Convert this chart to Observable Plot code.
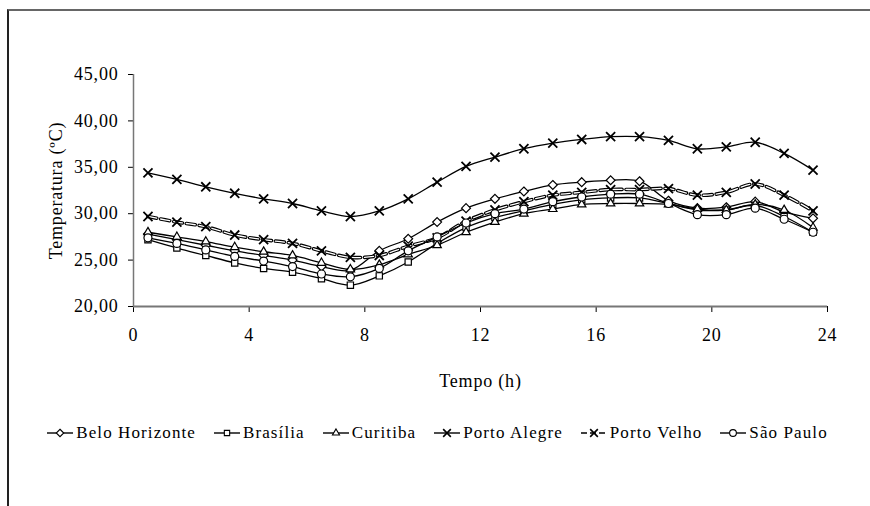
<!DOCTYPE html>
<html><head><meta charset="utf-8">
<script src="https://cdn.jsdelivr.net/npm/d3@7"></script>
<script src="https://cdn.jsdelivr.net/npm/@observablehq/plot@0.6"></script>
<style>
body{margin:0;background:#fff;}
#wrap{position:relative;width:870px;height:506px;overflow:hidden;font-family:"Liberation Serif","Times New Roman",serif;color:#000;}
#frame{position:absolute;left:7px;top:9px;width:900px;height:600px;border-top:2px solid #666;border-left:2px solid #222;}
#chart{position:absolute;left:0;top:0;}
#legend{position:absolute;left:0;width:874px;top:423px;display:flex;justify-content:center;align-items:center;gap:17px;font-size:17px;letter-spacing:1.1px;white-space:nowrap;}
.item{display:flex;align-items:center;gap:2px;}
</style></head>
<body><div id="wrap"><div id="frame"></div><div id="chart"></div><div id="legend"></div></div>
<script>
const hours = [0.5,1.5,2.5,3.5,4.5,5.5,6.5,7.5,8.5,9.5,10.5,11.5,12.5,13.5,14.5,15.5,16.5,17.5,18.5,19.5,20.5,21.5,22.5,23.5];
const cities = ["Belo Horizonte","Brasília","Curitiba","Porto Alegre","Porto Velho","São Paulo"];
const beloHorizonte = [27.8,27.2,26.6,26.0,25.5,25.0,24.3,23.9,26.0,27.3,29.1,30.6,31.6,32.4,33.1,33.4,33.6,33.5,31.4,30.6,30.7,31.3,30.2,29.5];
const brasilia      = [27.2,26.3,25.5,24.7,24.1,23.7,23.0,22.3,23.3,24.8,26.8,28.5,29.6,30.3,31.0,31.5,31.7,31.7,31.1,30.4,30.4,30.9,29.7,28.0];
const curitiba      = [28.0,27.5,27.0,26.4,25.9,25.5,24.7,24.0,24.5,25.6,26.6,28.0,29.1,30.0,30.5,31.0,31.1,31.1,31.0,30.5,30.4,31.0,30.4,28.5];
const portoAlegre   = [34.4,33.7,32.9,32.2,31.6,31.1,30.3,29.7,30.3,31.6,33.4,35.1,36.1,37.0,37.6,38.0,38.3,38.3,37.9,37.0,37.2,37.7,36.5,34.7];
const portoVelho    = [29.7,29.1,28.6,27.7,27.2,26.8,26.0,25.3,25.5,26.5,27.4,29.2,30.4,31.3,32.0,32.3,32.6,32.6,32.7,32.0,32.3,33.2,32.0,30.3];
const saoPaulo      = [27.4,26.8,26.1,25.4,24.9,24.3,23.5,23.2,24.1,26.0,27.5,29.0,30.0,30.5,31.3,31.8,32.1,32.1,31.1,29.9,29.9,30.6,29.4,28.0];
const seriesValues = [beloHorizonte,brasilia,curitiba,portoAlegre,portoVelho,saoPaulo];
const symbols = ["diamond2","square2","triangle2","times","times","circle"];
const d3symbols = [d3.symbolDiamond2,d3.symbolSquare2,d3.symbolTriangle2,d3.symbolTimes,d3.symbolTimes,d3.symbolCircle];
const xTicks = [0,4,8,12,16,20,24];
const yTicks = [20,25,30,35,40,45];

const rows = cities.map((c,i)=>hours.map((h,j)=>({city:c,hour:h,temp:seriesValues[i][j]})));
const fmt = d => d.toFixed(2).replace(".", ",");
const dash = "9,4";

const marks = [
  Plot.ruleY([20], {stroke:"#777", strokeWidth:2}),
  Plot.ruleX([0], {stroke:"#777", strokeWidth:1.5})
];
rows.forEach((data,i)=>{
  if (cities[i] === "Porto Velho") {
    marks.push(Plot.line(data,{x:"hour",y:"temp",curve:"catmull-rom",stroke:"black",strokeWidth:3.6,strokeDasharray:dash}));
    marks.push(Plot.line(data,{x:"hour",y:"temp",curve:"catmull-rom",stroke:"white",strokeWidth:1.3,strokeDasharray:dash}));
  } else {
    marks.push(Plot.line(data,{x:"hour",y:"temp",curve:"catmull-rom",stroke:"black",strokeWidth:1.3}));
  }
  marks.push(Plot.dot(data,{x:"hour",y:"temp",symbol:symbols[i],r:symbols[i]==="times"?4.2:4,fill:"white",stroke:"black",strokeWidth:symbols[i]==="times"?1.8:1.2}));
});

const chart = Plot.plot({
  width:870, height:400,
  marginTop:74, marginLeft:133, marginRight:43, marginBottom:94,
  style:{fontFamily:"'Liberation Serif', 'Times New Roman', serif", fontSize:"18px", letterSpacing:"0.8px", color:"black", background:"transparent"},
  x:{domain:[0,24], ticks:xTicks, tickFormat:d=>String(d), tickSize:6, tickPadding:16, label:"Tempo (h)", labelArrow:false, labelAnchor:"center", labelOffset:80},
  y:{domain:[20,45], ticks:yTicks, tickFormat:fmt, tickSize:5, tickPadding:10, label:"Temperatura (ºC)", labelArrow:false, labelAnchor:"center", labelOffset:84},
  marks
});
document.getElementById("chart").appendChild(chart);

const legend = d3.select("#legend");
cities.forEach((c,i)=>{
  const it = legend.append("div").attr("class","item");
  const s = it.append("svg").attr("width",28).attr("height",16);
  s.append("line").attr("x1",1).attr("x2",27).attr("y1",8).attr("y2",8).attr("stroke","black").attr("stroke-width",1.4)
    .attr("stroke-dasharray", c==="Porto Velho" ? "6,3" : null);
  s.append("path").attr("d", d3.symbol(d3symbols[i], symbols[i]==="times"?40:36)()).attr("transform","translate(14,8)")
    .attr("fill","white").attr("stroke","black").attr("stroke-width",symbols[i]==="times"?1.6:1.1);
  it.append("span").text(c);
});
</script></body></html>
